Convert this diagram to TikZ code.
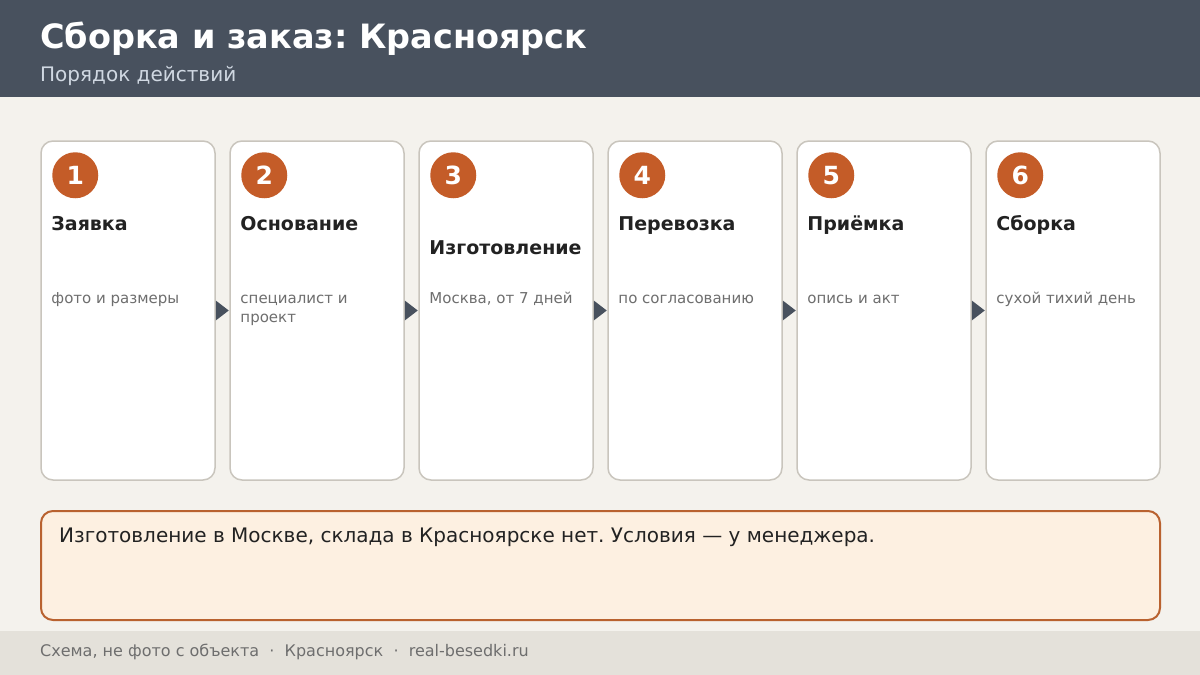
\documentclass[tikz,border=0pt]{standalone}
\usepackage{fontspec}
\setmainfont{DejaVu Sans}
\usetikzlibrary{positioning,shapes.geometric}
\definecolor{headbg}{HTML}{48515E}
\definecolor{pagebg}{HTML}{F4F2ED}
\definecolor{cardline}{HTML}{C9C5BD}
\definecolor{accent}{HTML}{C45C28}
\definecolor{inktext}{HTML}{222222}
\definecolor{softtext}{HTML}{6E6E6E}
\definecolor{notefill}{HTML}{FDF0E1}
\definecolor{noteline}{HTML}{B9622F}
\definecolor{footbg}{HTML}{E4E1DA}
\definecolor{subtext}{HTML}{D0D8E2}
\frenchspacing
\tikzset{
  card/.style={draw=cardline,line width=1.5pt,fill=white,rounded corners=12pt,
    minimum width=174pt,minimum height=339pt,inner sep=0pt},
  badge/.style={circle,fill=accent,minimum size=46pt,inner sep=0pt,text=white,
    font=\fontsize{25}{30}\selectfont\bfseries},
  steptitle/.style={anchor=base west,inner sep=0pt,text=inktext,
    font=\fontsize{19}{22}\selectfont\bfseries},
  stepdesc/.style={anchor=base west,inner sep=0pt,text=softtext,
    font=\fontsize{15}{19}\selectfont},
  flowtip/.style={isosceles triangle,isosceles triangle stretches,fill=headbg,
    minimum height=13pt,minimum width=20pt,inner sep=0pt,outer sep=0pt},
}
\begin{document}
\begin{tikzpicture}[x=1pt,y=-1pt]
  \useasboundingbox (0,0) rectangle (1200,675);
  \fill[pagebg] (0,0) rectangle (1200,675);
  % header
  \fill[headbg] (0,0) rectangle (1200,97);
  \node[anchor=base west,inner sep=0pt,text=white,font=\fontsize{33.5}{40}\selectfont\bfseries] (title) at (40,48) {Сборка и заказ: Красноярск};
  \node[anchor=base west,inner sep=0pt,text=subtext,font=\fontsize{20}{24}\selectfont] (subtitle) at (40,81) {Порядок действий};
  % steps
  \foreach \i/\name/\desc/\dy in {1/Заявка/фото и размеры/90,
      2/Основание/{специалист и\\проект}/90,
      3/Изготовление/{Москва, от 7 дней}/114,
      4/Перевозка/по согласованию/90,
      5/Приёмка/опись и акт/90,
      6/Сборка/сухой тихий день/90} {
    \node[card] (c\i) at ({128+189*(\i-1)},310.5) {};
    \node[badge] (n\i) at ([shift={(35,35)}]c\i.north west) {\i};
    \node[steptitle] (t\i) at ([shift={(11,\dy)}]c\i.north west) {\name};
    \node[stepdesc] (d\i) at ([shift={(11,163)}]c\i.north west)
      {\begin{tabular}[t]{@{}l@{}}\desc\end{tabular}};
  }
  \foreach \i [evaluate=\i as \j using int(\i+1)] in {1,...,5}
    \path (c\i.east) -- (c\j.west) node[flowtip,pos=0,anchor=west] (a\i) {};
  % note
  \node[draw=noteline,line width=2pt,fill=notefill,rounded corners=12pt,
    minimum width=1119pt,minimum height=109pt,inner sep=0pt] (note) at (600.5,565.5) {};
  \node[anchor=base west,inner sep=0pt,text=inktext,font=\fontsize{20}{24}\selectfont] (notetext) at ([shift={(19,32)}]note.north west) {Изготовление в Москве, склада в Красноярске нет. Условия — у менеджера.};
  % footer
  \fill[footbg] (0,631) rectangle (1200,675);
  \node[anchor=base west,inner sep=0pt,text=softtext,font=\fontsize{16}{19}\selectfont] (foot) at (40,656) {Схема, не фото с объекта \ \textperiodcentered\ \ Красноярск \ \textperiodcentered\ \ real-besedki.ru};
\end{tikzpicture}
\end{document}
